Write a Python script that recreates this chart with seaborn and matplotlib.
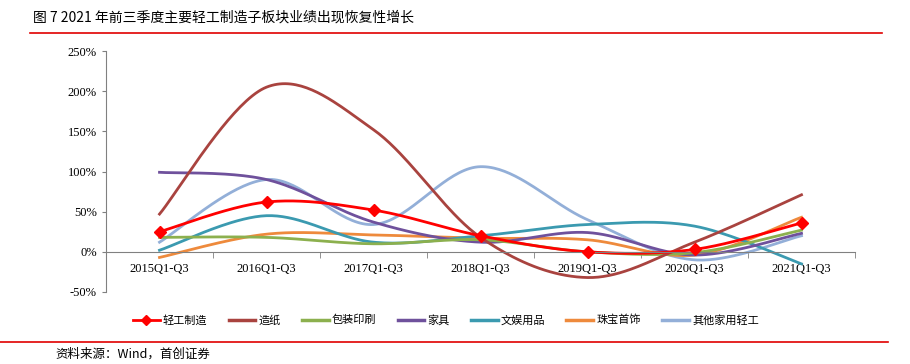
import numpy as np
import pandas as pd
import matplotlib
matplotlib.use("Agg")
import matplotlib.pyplot as plt
import seaborn as sns
from matplotlib.lines import Line2D
from matplotlib.ticker import FuncFormatter, MultipleLocator

# categories and series values (growth, %)
periods = ['2015Q1-Q3', '2016Q1-Q3', '2017Q1-Q3', '2018Q1-Q3',
           '2019Q1-Q3', '2020Q1-Q3', '2021Q1-Q3']
light_industry = [25, 62, 52, 20, 0, 3, 36]
paper = [47, 205, 152, 18, -32, 12, 71]
packaging = [18, 18, 10, 15, 0, -1, 27]
furniture = [99, 90, 37, 12, 24, -4, 23]
stationery = [2, 45, 12, 20, 34, 32, -15]
jewelry = [-7, 22, 21, 17, 15, -4, 43]
household = [12, 90, 34, 106, 40, -10, 20]

series_names = ['轻工制造', '造纸', '包装印刷', '家具', '文娱用品', '珠宝首饰', '其他家用轻工']
series_values = [light_industry, paper, packaging, furniture, stationery, jewelry, household]
colors = ['#FF0000', '#A9433F', '#8CB04E', '#6F519C', '#3B9AB0', '#EE8A3C', '#93AFD8']

plt.rcParams['font.family'] = ['Liberation Serif', 'Noto Sans CJK SC']


def smooth(vals, n=40):
    """Excel-like smoothed line: Catmull-Rom curve through the points."""
    p = np.asarray(vals, dtype=float)
    x = np.arange(len(p), dtype=float)
    xs, ys = [], []
    for i in range(len(p) - 1):
        i0, i3 = max(i - 1, 0), min(i + 2, len(p) - 1)
        for arr, out in ((x, xs), (p, ys)):
            b0 = arr[i]
            b1 = arr[i] + (arr[i + 1] - arr[i0]) / 6
            b2 = arr[i + 1] - (arr[i3] - arr[i]) / 6
            b3 = arr[i + 1]
            t = np.linspace(0, 1, n, endpoint=(i == len(p) - 2))
            out.extend((1 - t) ** 3 * b0 + 3 * (1 - t) ** 2 * t * b1
                       + 3 * (1 - t) * t ** 2 * b2 + t ** 3 * b3)
    return np.array(xs), np.array(ys)


frames = []
for name, vals in zip(series_names, series_values):
    sx, sy = smooth(vals)
    frames.append(pd.DataFrame({'x': sx, 'y': sy, 'name': name}))
df = pd.concat(frames, ignore_index=True)

fig = plt.figure(figsize=(9.1, 3.64), dpi=100)
ax = fig.add_axes([106 / 910, 1 - 292 / 364, 749 / 910, 241 / 364])

sns.lineplot(data=df, x='x', y='y', hue='name', hue_order=series_names[::-1],
             palette=dict(zip(series_names, colors)), linewidth=2.0,
             sort=False, estimator=None, legend=False, ax=ax)
ax.plot(range(len(periods)), light_industry, linestyle='none', marker='D',
        markersize=6, color='#FF0000', zorder=5)

ax.set_xlim(-0.5, len(periods) - 0.5)
ax.set_ylim(-50, 250)
ax.yaxis.set_major_locator(MultipleLocator(50))
ax.yaxis.set_major_formatter(FuncFormatter(lambda v, p: f'{v:.0f}%'))
ax.set_xticks(range(len(periods)))
ax.set_xticklabels(periods)
ax.set_xticks(np.arange(-0.5, len(periods)), minor=True)
ax.tick_params(axis='x', which='major', length=0, pad=8, labelsize=9)
ax.tick_params(axis='x', which='minor', length=4, direction='out', color='#808080')
ax.tick_params(axis='y', length=3, labelsize=9, color='#808080')
ax.set_xlabel('')
ax.set_ylabel('')
ax.spines['top'].set_visible(False)
ax.spines['right'].set_visible(False)
ax.spines['bottom'].set_position(('data', 0))
ax.spines['bottom'].set_color('#808080')
ax.spines['left'].set_color('#808080')
ax.grid(False)

handles = []
for name, c in zip(series_names, colors):
    if name == '轻工制造':
        handles.append(Line2D([0], [0], color=c, lw=2, marker='D', markersize=5))
    else:
        handles.append(Line2D([0], [0], color=c, lw=2.5))
fig.legend(handles, series_names, loc='center', bbox_to_anchor=(0.49, 1 - 320 / 364),
           ncol=7, frameon=False, handlelength=2.4, handletextpad=0.3,
           columnspacing=1.9, prop={'family': 'Noto Sans CJK SC', 'size': 8})

fig.text(33 / 910, 1 - 18 / 364, '图 7 2021 年前三季度主要轻工制造子板块业绩出现恢复性增长',
         fontsize=10, va='center', ha='left', family=['Noto Sans CJK SC'])
fig.add_artist(Line2D([30 / 910, 882 / 910], [1 - 33 / 364] * 2, color='#E00000', lw=1.2))
fig.add_artist(Line2D([0, 888 / 910], [1 - 342 / 364] * 2, color='#E00000', lw=1.2))
fig.text(55 / 910, 1 - 354 / 364, '资料来源：Wind，首创证券', fontsize=9, style='italic',
         va='center', ha='left', family=['Noto Sans CJK SC', 'Liberation Serif'])

fig.savefig('out.png', dpi=100)
